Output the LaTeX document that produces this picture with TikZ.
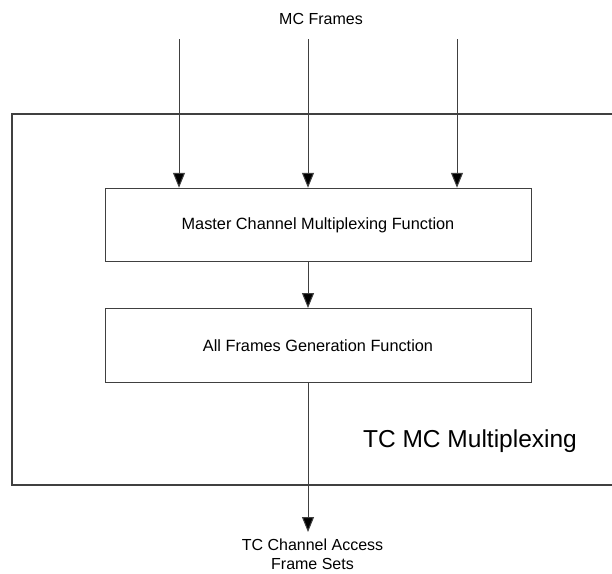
\documentclass[tikz,border=0pt]{standalone}
\usepackage{fontspec}
\setmainfont{Liberation Sans}
\usetikzlibrary{arrows.meta}
\begin{document}
\begin{tikzpicture}[x=1pt,y=-1pt,
  ln/.style={draw=black!75,line width=1pt},
  arr/.style={ln,-{Triangle[length=15pt,width=12pt,fill=black]}},
  fbox/.style={ln,minimum width=426pt,minimum height=73.5pt,font=\fontsize{16.3}{19}\selectfont,inner sep=0pt},
  lbl/.style={font=\fontsize{16}{19}\selectfont,align=center,inner sep=0pt}]
\useasboundingbox (0,0) rectangle (612,573);
\path[ln,line width=1.3pt] (614,114) -- (12,114) -- (12,485) -- (614,485);
\node[lbl] (mcf) at (321,19) {MC Frames};
\coordinate (s1) at (179,39);
\coordinate (s2) at (308,39);
\coordinate (s3) at (457,39);
\node[fbox] (mux) at (318,225) {Master Channel Multiplexing Function};
\node[fbox] (gen) at (318,345.3) {All Frames Generation Function};
\coordinate (e) at (308,532);
\node[lbl] (out) at (312.5,554) {TC Channel Access\\Frame Sets};
\node[font=\fontsize{24.5}{28}\selectfont,inner sep=0pt] (title) at (470,441) {TC MC Multiplexing};
\draw[arr] (s1) -- (s1 |- mux.north);
\draw[arr] (s2) -- (s2 |- mux.north);
\draw[arr] (s3) -- (s3 |- mux.north);
\draw[arr] (s2 |- mux.south) -- (s2 |- gen.north);
\draw[arr] (s2 |- gen.south) -- (e);
\end{tikzpicture}
\end{document}
